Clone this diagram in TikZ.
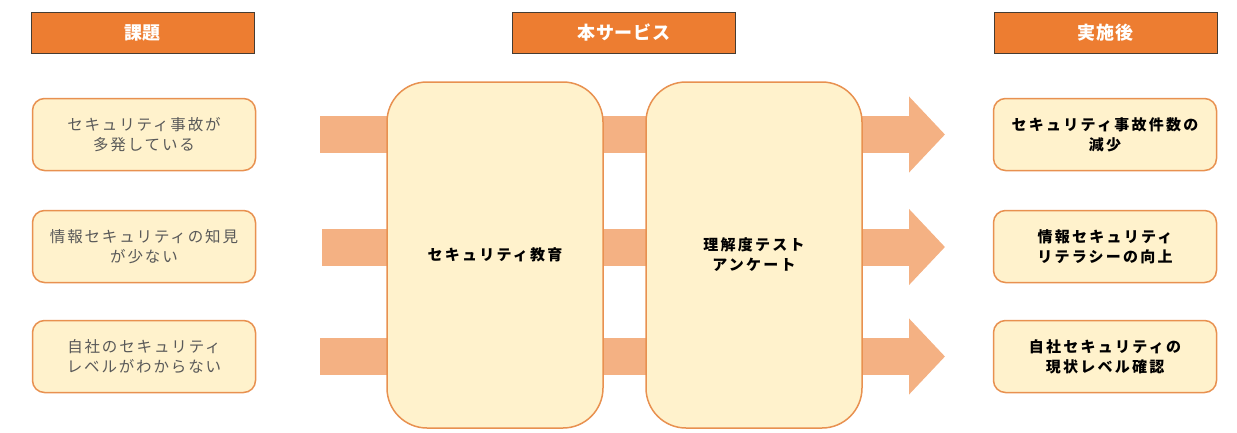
\documentclass[tikz,border=0pt]{standalone}
\usepackage{fontspec}
\setmainfont{Noto Sans CJK JP}[LetterSpace=15]
\usetikzlibrary{arrows.meta}
\definecolor{hdrfill}{RGB}{237,125,49}
\definecolor{hdrline}{RGB}{70,60,50}
\definecolor{boxfill}{RGB}{255,242,204}
\definecolor{boxline}{RGB}{232,145,80}
\definecolor{flowfill}{RGB}{244,177,131}
\definecolor{issuetext}{RGB}{89,89,89}

\begin{document}
\begin{tikzpicture}[x=1pt,y=-1pt,
        header/.style={draw=hdrline,fill=hdrfill,text=white,font=\fontsize{18}{20}\selectfont\bfseries\addfontfeatures{LetterSpace=4},minimum width=223pt,minimum height=41pt,inner sep=0pt},
        issue/.style={draw=boxline,line width=1.5pt,fill=boxfill,rounded corners=12pt,minimum width=223pt,minimum height=72pt,align=center,text=issuetext,font=\fontsize{15.5}{20}\selectfont\addfontfeatures{LetterSpace=12}},
        result/.style={issue,text=black,font=\fontsize{15}{20}\selectfont\bfseries},
        service/.style={draw=boxline,line width=1.5pt,fill=boxfill,rounded corners=40pt,minimum width=216pt,minimum height=346pt,align=center,font=\fontsize{15}{20}\selectfont\bfseries},
        flow/.style={draw=flowfill,line width=37pt,-{Triangle[length=36pt,width=74pt]}}]
        \useasboundingbox (0,0) rectangle (1237,432);
        % Column headers
        \node[header] (kadai) at (142.5,32.5) {課題};
        \node[header] (service) at (624,32.5) {本サービス};
        \node[header] (jisshigo) at (1105.5,32.5) {実施後};
        % Flows behind the service boxes
        \foreach \n/\xs/\y in {1/320/134.5,2/322/247,3/320/356.5}{
            \coordinate (start\n) at (\xs,\y);
            \coordinate (tip\n) at (945,\y);
            \draw[flow] (start\n) -- (tip\n);
        }
        % Service boxes
        \node[service] (kyoiku) at (495,255) {セキュリティ教育};
        \node[service] (test) at (754,255) {理解度テスト\\アンケート};
        % Issues (left) and results (right)
        \foreach \n/\y/\txt in {1/134.5/{セキュリティ事故が\\多発している},2/246.5/{情報セキュリティの知見\\が少ない},3/356.5/{自社のセキュリティ\\レベルがわからない}}
            \node[issue] (issue\n) at (144,\y) {\txt};
        \foreach \n/\y/\txt in {1/134.5/{セキュリティ事故件数の\\減少},2/246.5/{情報セキュリティ\\リテラシーの向上},3/356.5/{自社セキュリティの\\現状レベル確認}}
            \node[result] (result\n) at (1105,\y) {\txt};
        %
    \end{tikzpicture}
\end{document}
